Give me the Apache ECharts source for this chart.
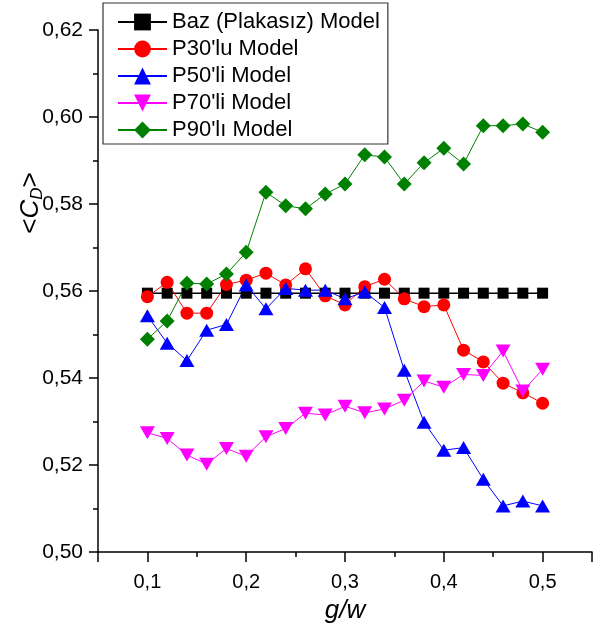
<!DOCTYPE html>
<html>
<head>
<meta charset="utf-8">
<script src="https://cdn.jsdelivr.net/npm/echarts@6/dist/echarts.min.js"></script>
<style>
html,body{margin:0;padding:0;background:#fff;}
#c{width:595px;height:635px;}
</style>
</head>
<body>
<div id="c"></div>
<script>
var xs = [0.10,0.12,0.14,0.16,0.18,0.20,0.22,0.24,0.26,0.28,0.30,0.32,0.34,0.36,0.38,0.40,0.42,0.44,0.46,0.48,0.50];
var baz = [0.5595,0.5595,0.5595,0.5595,0.5595,0.5595,0.5595,0.5595,0.5595,0.5595,0.5595,0.5595,0.5595,0.5595,0.5595,0.5595,0.5595,0.5595,0.5595,0.5595,0.5595];
var p30 = [0.5587,0.5620,0.5549,0.5549,0.5615,0.5625,0.5641,0.5614,0.5651,0.5589,0.5568,0.5610,0.5627,0.5582,0.5564,0.5568,0.5464,0.5437,0.5388,0.5366,0.5342];
var p50 = [0.5543,0.5480,0.5440,0.5510,0.5523,0.5614,0.5559,0.5606,0.5602,0.5602,0.5582,0.5598,0.5562,0.5418,0.5298,0.5234,0.5240,0.5167,0.5106,0.5117,0.5106];
var p70 = [0.5274,0.5261,0.5223,0.5202,0.5238,0.5220,0.5265,0.5284,0.5319,0.5315,0.5335,0.5320,0.5329,0.5349,0.5393,0.5379,0.5408,0.5406,0.5462,0.5370,0.5420];
var p90 = [0.5489,0.5531,0.5618,0.5616,0.5639,0.5689,0.5827,0.5796,0.5789,0.5823,0.5846,0.5913,0.5908,0.5846,0.5895,0.5928,0.5892,0.5980,0.5980,0.5984,0.5965];
var names = ["Baz (Plakasız) Model","P30'lu Model","P50'li Model","P70'li Model","P90'lı Model"];

function pairs(ys){ return xs.map(function(x,i){ return [x, ys[i]]; }); }

var FONT = "'Liberation Sans', Arial, sans-serif";
var chart = echarts.init(document.getElementById('c'), null, {renderer:'canvas'});

function mk(name, ys, color, symbol, size, rot, lw){
  return {
    name: name, type: 'line', data: pairs(ys),
    symbol: symbol, symbolSize: size, symbolRotate: rot || 0,
    lineStyle: {color: color, width: lw || 1},
    itemStyle: {color: color},
    animation: false
  };
}

chart.setOption({
  animation: false,
  textStyle: {fontFamily: FONT},
  grid: {left: 98, right: 0, top: 30, bottom: 83, containLabel: false},
  legend: {
    orient: 'vertical', left: 103, top: 3,
    padding: [8, 8, 3, 14],
    itemWidth: 49, itemHeight: 21, itemGap: 5,
    borderColor: '#333', borderWidth: 1.2, backgroundColor: '#fff',
    textStyle: {fontSize: 22, lineHeight: 22, color: '#000', fontFamily: FONT},
    data: names
  },
  xAxis: {
    type: 'value', min: 0.05, max: 0.55, splitNumber: 5,
    name: 'g/w', nameLocation: 'middle', nameGap: 46,
    nameTextStyle: {fontSize: 26, fontStyle: 'italic', color: '#000', fontFamily: FONT},
    axisLine: {show: true, onZero: false, lineStyle: {color: '#000', width: 1.5}},
    axisTick: {show: true, inside: false, length: 10, lineStyle: {color: '#000', width: 1.5}},
    minorTick: {show: true, splitNumber: 2, length: 5, lineStyle: {color: '#000', width: 1.5}},
    splitLine: {show: false},
    axisLabel: {
      fontSize: 20, color: '#000', margin: 20, fontFamily: FONT,
      formatter: function(v){
        var r = Math.round(v*10);
        if (Math.abs(v*10 - r) > 1e-6 || r < 1 || r > 5) return '';
        return (r/10).toFixed(1).replace('.', ',');
      }
    }
  },
  yAxis: {
    type: 'value', min: 0.50, max: 0.62, interval: 0.02,
    axisLine: {show: true, onZero: false, lineStyle: {color: '#000', width: 1.5}},
    axisTick: {show: true, inside: false, length: 9, lineStyle: {color: '#000', width: 1.5}},
    minorTick: {show: true, splitNumber: 2, length: 5, lineStyle: {color: '#000', width: 1.5}},
    splitLine: {show: false},
    axisLabel: {
      fontSize: 21, color: '#000', margin: 15, fontFamily: FONT,
      formatter: function(v){ return v.toFixed(2).replace('.', ','); }
    }
  },
  graphic: [{
    type: 'text', x: 31, y: 203, rotation: Math.PI/2,
    style: {
      text: '{n|<}{c|C}{s|D}{n|>}',
      align: 'center', verticalAlign: 'middle',
      fill: '#000',
      rich: {
        n: {fontSize: 26, fontFamily: FONT, fill: '#000', lineHeight: 30, verticalAlign: 'middle'},
        c: {fontSize: 26, fontFamily: FONT, fontStyle: 'italic', fill: '#000', lineHeight: 30, verticalAlign: 'middle'},
        s: {fontSize: 17, fontFamily: FONT, fontStyle: 'italic', fill: '#000', lineHeight: 17, verticalAlign: 'bottom', padding: [15, 0, 0, 0]}
      }
    }
  }],
  series: [
    mk(names[0], baz, '#000000', 'rect', 11, 0, 1.5),
    mk(names[1], p30, '#ff0000', 'circle', 13, 0, 1),
    mk(names[2], p50, '#0000ff', 'triangle', [15, 13], 0, 1),
    mk(names[3], p70, '#ff00ff', 'triangle', [15, 13], 180, 1),
    mk(names[4], p90, '#008000', 'diamond', 15, 0, 1)
  ]
});
</script>
</body>
</html>
